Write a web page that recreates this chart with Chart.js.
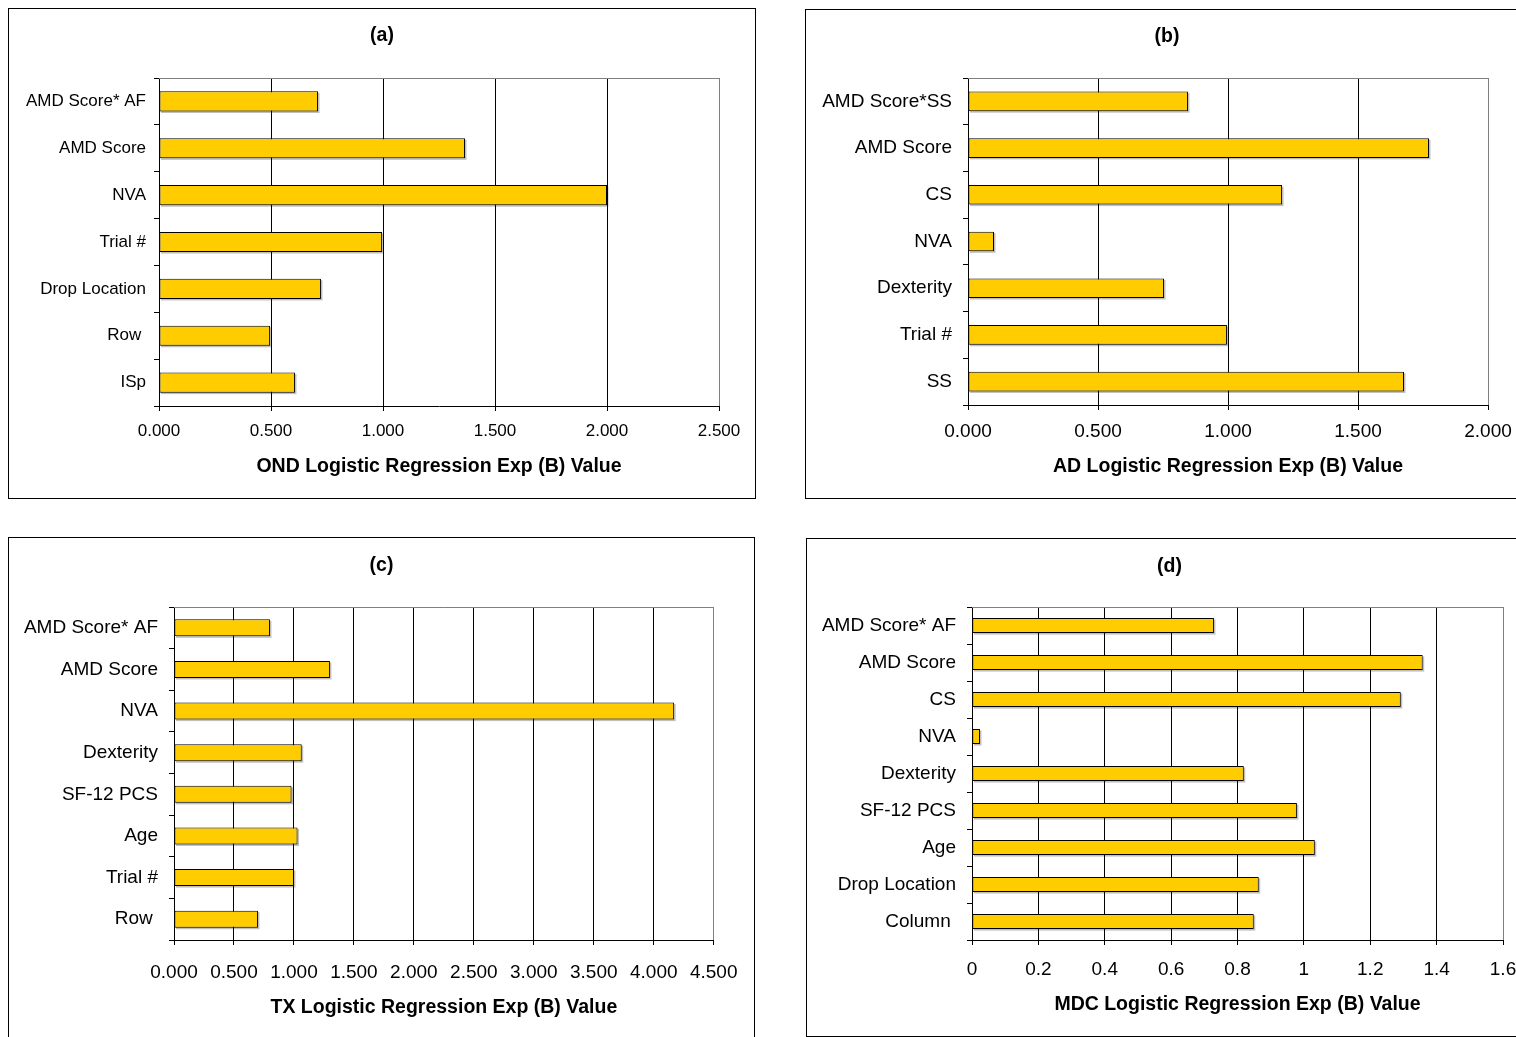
<!DOCTYPE html>
<html>
<head>
<meta charset="utf-8">
<script src="https://cdn.jsdelivr.net/npm/chart.js@4/dist/chart.umd.min.js"></script>
<style>
  html, body { margin: 0; padding: 0; background: #fff; width: 1516px; height: 1037px; overflow: hidden; position: relative; }
  .frame { position: absolute; border: 1px solid #000; box-sizing: border-box; background: #fff; }
  .frame canvas { position: absolute; left: 0; top: 0; }
</style>
</head>
<body>
<div class="frame" style="left:8px;top:8px;width:748px;height:491px"><canvas id="chartA" width="746" height="489"></canvas></div>
<div class="frame" style="left:805px;top:9px;width:724px;height:490px"><canvas id="chartB" width="722" height="488"></canvas></div>
<div class="frame" style="left:8px;top:537px;width:747px;height:504px"><canvas id="chartC" width="745" height="502"></canvas></div>
<div class="frame" style="left:806px;top:538px;width:727px;height:499px"><canvas id="chartD" width="725" height="497"></canvas></div>
<script>
// ---- data ----
const ondLabels = ['AMD Score* AF', 'AMD Score', 'NVA', 'Trial #', 'Drop Location', 'Row ', 'ISp'];
const ondValues = [0.710, 1.366, 2.000, 0.996, 0.723, 0.496, 0.607];
const ondTicks  = ['0.000', '0.500', '1.000', '1.500', '2.000', '2.500'];

const adLabels = ['AMD Score*SS', 'AMD Score', 'CS', 'NVA', 'Dexterity', 'Trial #', 'SS'];
const adValues = [0.846, 1.773, 1.208, 0.100, 0.754, 0.996, 1.677];
const adTicks  = ['0.000', '0.500', '1.000', '1.500', '2.000'];

const txLabels = ['AMD Score* AF', 'AMD Score', 'NVA', 'Dexterity', 'SF-12 PCS', 'Age', 'Trial #', 'Row '];
const txValues = [0.800, 1.300, 4.170, 1.065, 0.980, 1.030, 1.000, 0.700];
const txTicks  = ['0.000', '0.500', '1.000', '1.500', '2.000', '2.500', '3.000', '3.500', '4.000', '4.500'];

const mdcLabels = ['AMD Score* AF', 'AMD Score', 'CS', 'NVA', 'Dexterity', 'SF-12 PCS', 'Age', 'Drop Location', 'Column '];
const mdcValues = [0.729, 1.358, 1.292, 0.024, 0.819, 0.979, 1.033, 0.864, 0.849];
const mdcTicks  = ['0', '0.2', '0.4', '0.6', '0.8', '1', '1.2', '1.4', '1.6'];

const FONT = "'Liberation Sans', Arial, Helvetica, sans-serif";

// grey top edge of the plot area
const plotTopEdge = {
  id: 'plotTopEdge',
  beforeDatasetsDraw(chart) {
    const { ctx, chartArea: a } = chart;
    ctx.save();
    ctx.strokeStyle = '#808080';
    ctx.lineWidth = 1;
    ctx.beginPath();
    ctx.moveTo(a.left, a.top + 0.5);
    ctx.lineTo(a.right, a.top + 0.5);
    ctx.stroke();
    ctx.restore();
  }
};

// soft drop shadow under each bar, from the bar elements' own geometry
const barShadow = {
  id: 'barShadow',
  beforeDatasetsDraw(chart) {
    const { ctx } = chart;
    ctx.save();
    ctx.fillStyle = 'rgba(0,0,0,0.25)';
    chart.getDatasetMeta(0).data.forEach(el => {
      const p = el.getProps(['x', 'y', 'base', 'height'], true);
      const x0 = Math.min(p.x, p.base), x1 = Math.max(p.x, p.base);
      ctx.fillRect(x0 + 1.5, p.y - p.height / 2 + 1.5, x1 - x0, p.height);
    });
    ctx.restore();
  }
};

// panel letter centred across the whole frame
const panelLetter = {
  id: 'panelLetter',
  afterDraw(chart, args, opts) {
    const { ctx, width } = chart;
    ctx.save();
    ctx.fillStyle = '#000';
    ctx.font = `bold ${opts.size}px ${FONT}`;
    ctx.textAlign = 'center';
    ctx.textBaseline = 'middle';
    ctx.fillText(opts.text, width / 2, opts.y);
    ctx.restore();
  }
};

function panel(canvasId, title, axisTitle, labels, values, tickLabels, L) {
  const canvas = document.getElementById(canvasId);
  const W = canvas.width, H = canvas.height;
  const max = parseFloat(tickLabels[tickLabels.length - 1]);
  const axisLH = L.titleSize * 1.2;
  return new Chart(canvas, {
    type: 'bar',
    data: {
      labels: labels,
      datasets: [{
        data: values,
        backgroundColor: '#FFCC00',
        borderColor: '#000000',
        borderWidth: 1,
        borderSkipped: false,
        categoryPercentage: 1,
        barPercentage: L.barPct
      }]
    },
    options: {
      indexAxis: 'y',
      responsive: false,
      animation: false,
      devicePixelRatio: 1,
      layout: { padding: { left: 0, top: L.top, right: W - L.right, bottom: 0 } },
      plugins: {
        legend: { display: false },
        tooltip: { enabled: false },
        title: { display: false },
        panelLetter: { text: title, y: L.titleY, size: L.titleSize }
      },
      scales: {
        x: {
          type: 'linear',
          min: 0,
          max: max,
          afterBuildTicks(scale) {
            scale.ticks = tickLabels.map(t => ({ value: parseFloat(t) }));
          },
          afterFit(scale) { scale.height = H - L.bottom; },
          ticks: {
            autoSkip: false,
            maxRotation: 0,
            color: '#000',
            padding: L.xTickPad,
            font: { family: FONT, size: L.tickSize },
            callback: (v, i) => tickLabels[i]
          },
          grid: {
            color: ctx => (ctx.tick && Math.abs(ctx.tick.value - max) < 1e-9) ? '#808080' : '#000',
            lineWidth: 1,
            drawTicks: true,
            tickLength: 5,
            tickColor: '#000'
          },
          border: { display: true, color: '#000', width: 1 },
          title: {
            display: true,
            text: axisTitle,
            color: '#000',
            font: { family: FONT, size: L.titleSize, weight: 'bold', lineHeight: 1.2 },
            padding: { top: 0, bottom: H - L.axisTitleY - axisLH / 2 }
          }
        },
        y: {
          afterFit(scale) { scale.width = L.left; },
          ticks: {
            color: '#000',
            padding: L.yTickPad,
            font: { family: FONT, size: L.catSize }
          },
          grid: {
            offset: true,
            drawOnChartArea: false,
            drawTicks: true,
            tickLength: 5,
            tickColor: '#000'
          },
          border: { display: true, color: '#000', width: 1 }
        }
      }
    },
    plugins: [plotTopEdge, barShadow, panelLetter]
  });
}

panel('chartA', '(a)', 'OND Logistic Regression Exp (B) Value', ondLabels, ondValues, ondTicks,
  { left: 150, top: 69, right: 710, bottom: 397, titleY: 27, axisTitleY: 458,
    titleSize: 19.5, tickSize: 17, catSize: 17, xTickPad: 10, yTickPad: 8, barPct: 0.43 });

panel('chartB', '(b)', 'AD Logistic Regression Exp (B) Value', adLabels, adValues, adTicks,
  { left: 162, top: 68, right: 682, bottom: 395, titleY: 27, axisTitleY: 457,
    titleSize: 19.5, tickSize: 19, catSize: 19, xTickPad: 10, yTickPad: 11, barPct: 0.42 });

panel('chartC', '(c)', 'TX Logistic Regression Exp (B) Value', txLabels, txValues, txTicks,
  { left: 165, top: 69, right: 708, bottom: 402, titleY: 28, axisTitleY: 470,
    titleSize: 19.5, tickSize: 19, catSize: 19, xTickPad: 16.5, yTickPad: 11, barPct: 0.41 });

panel('chartD', '(d)', 'MDC Logistic Regression Exp (B) Value', mdcLabels, mdcValues, mdcTicks,
  { left: 165, top: 68, right: 696, bottom: 401, titleY: 28, axisTitleY: 466,
    titleSize: 19.5, tickSize: 19, catSize: 19, xTickPad: 13.5, yTickPad: 11, barPct: 0.41 });
</script>
</body>
</html>
